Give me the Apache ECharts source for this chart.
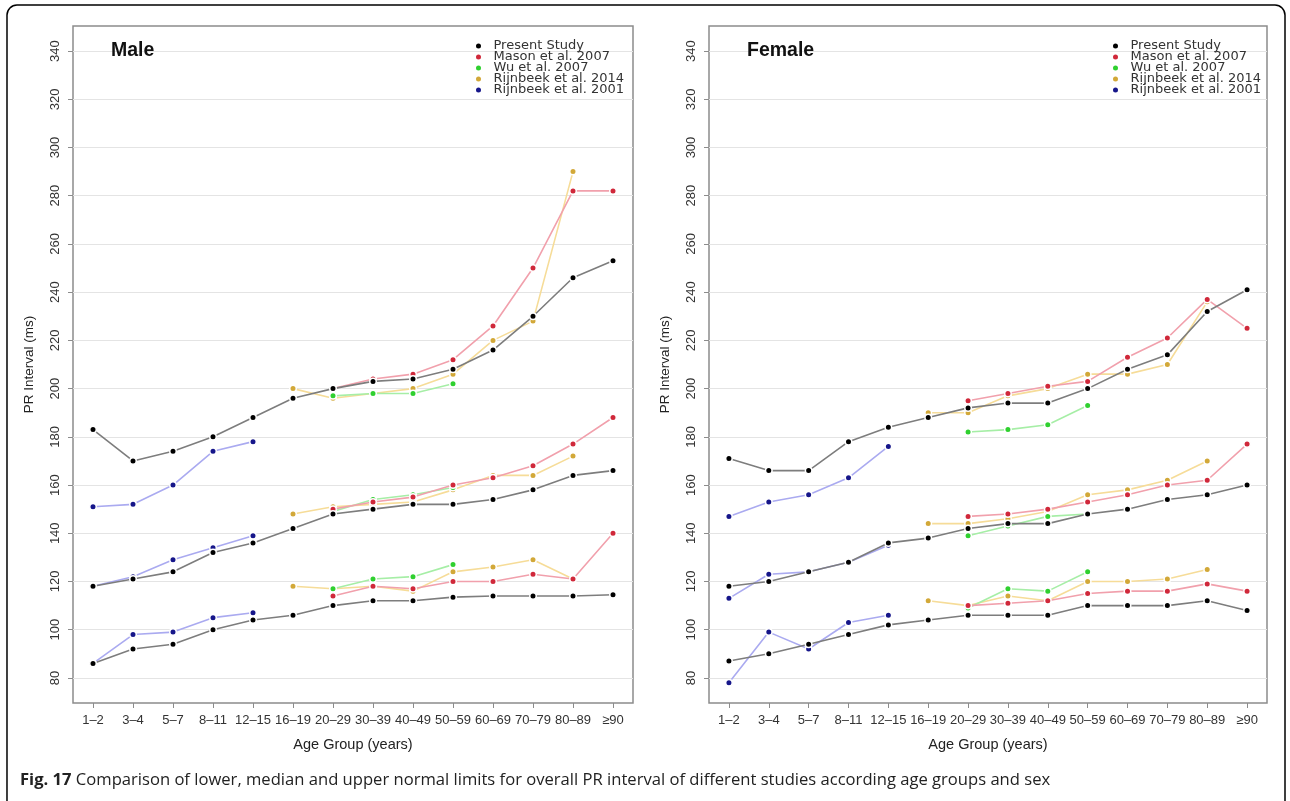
<!DOCTYPE html>
<html><head><meta charset="utf-8">
<script src="https://cdn.jsdelivr.net/npm/echarts@6/dist/echarts.min.js"></script>
<style>html,body{margin:0;padding:0;background:#fff}#c{width:1290px;height:801px}</style>
</head><body><div id="c"></div>
<script>
const N = null;
const categories = ['1–2','3–4','5–7','8–11','12–15','16–19','20–29','30–39','40–49','50–59','60–69','70–79','80–89','≥90'];
const yTicks = [80,100,120,140,160,180,200,220,240,260,280,300,320,340];
const studies = ['Present Study','Mason et al. 2007','Wu et al. 2007','Rijnbeek et al. 2014','Rijnbeek et al. 2001'];

// Male
const malePresentUpper  = [183,170,174,180,188,196,200,203,204,208,216,230,246,253];
const malePresentMedian = [118,121,124,132,136,142,148,150,152,152,154,158,164,166];
const malePresentLower  = [86,92,94,100,104,106,110,112,112,113.5,114,114,114,114.5];
const maleMasonUpper  = [N,N,N,N,N,N,200,204,206,212,226,250,282,282];
const maleMasonMedian = [N,N,N,N,N,N,150,153,155,160,163,168,177,188];
const maleMasonLower  = [N,N,N,N,N,N,114,118,117,120,120,123,121,140];
const maleWuUpper  = [N,N,N,N,N,N,197,198,198,202];
const maleWuMedian = [N,N,N,N,N,N,149,154,156,159];
const maleWuLower  = [N,N,N,N,N,N,117,121,122,127];
const maleRijn14Upper  = [N,N,N,N,N,200,196,198,200,206,220,228,290];
const maleRijn14Median = [N,N,N,N,N,148,151,152,153,158,164,164,172];
const maleRijn14Lower  = [N,N,N,N,N,118,117,118,116,124,126,129,121];
const maleRijn01Upper  = [151,152,160,174,178];
const maleRijn01Median = [118,122,129,134,139];
const maleRijn01Lower  = [86,98,99,105,107];

// Female
const femalePresentUpper  = [171,166,166,178,184,188,192,194,194,200,208,214,232,241];
const femalePresentMedian = [118,120,124,128,136,138,142,144,144,148,150,154,156,160];
const femalePresentLower  = [87,90,94,98,102,104,106,106,106,110,110,110,112,108];
const femaleMasonUpper  = [N,N,N,N,N,N,195,198,201,203,213,221,237,225];
const femaleMasonMedian = [N,N,N,N,N,N,147,148,150,153,156,160,162,177];
const femaleMasonLower  = [N,N,N,N,N,N,110,111,112,115,116,116,119,116];
const femaleWuUpper  = [N,N,N,N,N,N,182,183,185,193];
const femaleWuMedian = [N,N,N,N,N,N,139,143,147,148];
const femaleWuLower  = [N,N,N,N,N,N,109,117,116,124];
const femaleRijn14Upper  = [N,N,N,N,N,190,190,197,200,206,206,210,236];
const femaleRijn14Median = [N,N,N,N,N,144,144,146,149,156,158,162,170];
const femaleRijn14Lower  = [N,N,N,N,N,112,110,114,112,120,120,121,125];
const femaleRijn01Upper  = [147,153,156,163,176];
const femaleRijn01Median = [113,123,124,128,135];
const femaleRijn01Lower  = [78,99,92,103,106];

const pointColors = ['#000000','#d0283a','#2fd02f','#d2a838','#16168a'];
const lineColors  = ['#7d7d7d','#f1a0ac','#a6eea6','#f6dc98','#aaaaf0'];

const panels = [
  [[malePresentLower,malePresentMedian,malePresentUpper],[maleMasonLower,maleMasonMedian,maleMasonUpper],[maleWuLower,maleWuMedian,maleWuUpper],[maleRijn14Lower,maleRijn14Median,maleRijn14Upper],[maleRijn01Lower,maleRijn01Median,maleRijn01Upper]],
  [[femalePresentLower,femalePresentMedian,femalePresentUpper],[femaleMasonLower,femaleMasonMedian,femaleMasonUpper],[femaleWuLower,femaleWuMedian,femaleWuUpper],[femaleRijn14Lower,femaleRijn14Median,femaleRijn14Upper],[femaleRijn01Lower,femaleRijn01Median,femaleRijn01Upper]]
];

const FONT = 'Liberation Sans, Arial, sans-serif';
const series = [];
panels.forEach((panel, g) => {
  series.push({
    type:'line', name:'_grid'+g, xAxisIndex:g, yAxisIndex:g, data:[], silent:true,
    markLine:{silent:true, symbol:['none','none'], z:1, label:{show:false},
      lineStyle:{color:'#e4e4e4', width:1, type:'solid'},
      emphasis:{disabled:true},
      data: yTicks.map(v => ({yAxis:v}))}
  });
  for (let s = panel.length - 1; s >= 0; s--) {
    panel[s].forEach(arr => {
      series.push({
        type:'line', name:studies[s], xAxisIndex:g, yAxisIndex:g, data:arr,
        symbol:'circle', symbolSize:6.5, showSymbol:true, connectNulls:false,
        itemStyle:{color:pointColors[s], borderColor:'#ffffff', borderWidth:1.5},
        lineStyle:{color:lineColors[s], width:1.6},
        emphasis:{disabled:true}, z: 2 + (panel.length - s)
      });
    });
  }
});

function xAxisFor(g){
  return {type:'category', gridIndex:g, data:categories, boundaryGap:true,
    axisLine:{show:false}, axisTick:{show:true, alignWithLabel:true, length:5, lineStyle:{color:'#8c8c8c'}},
    axisLabel:{interval:0, margin:11, fontSize:13, color:'#333', fontFamily:FONT},
    splitLine:{show:false},
    name:'Age Group (years)', nameLocation:'middle', nameGap:34,
    nameTextStyle:{fontSize:14.5, color:'#222', fontFamily:FONT}};
}
function yAxisFor(g){
  return {type:'value', gridIndex:g, min:69.6, max:350.4,
    axisLine:{show:false},
    axisTick:{show:true, length:5, customValues:yTicks, lineStyle:{color:'#8c8c8c'}},
    axisLabel:{customValues:yTicks, rotate:90, margin:11, fontSize:13, color:'#333', fontFamily:FONT},
    splitLine:{show:false},
    name:'PR Interval (ms)', nameLocation:'middle', nameGap:37, nameRotate:90,
    nameTextStyle:{fontSize:13.5, color:'#222', fontFamily:FONT}};
}
function legendFor(left){
  return {left:left, top:39.5, orient:'vertical', padding:0, itemGap:-2, itemWidth:20, itemHeight:7,
    icon:'circle', data:studies, selectedMode:false,
    textStyle:{fontSize:13, lineHeight:11, color:'#333', fontFamily:'DejaVu Sans, sans-serif'}};
}

const option = {
  animation:false,
  backgroundColor:'#ffffff',
  title:[
    {text:'Male', left:111, top:41, padding:0, textStyle:{fontSize:19.5, fontWeight:'bold', color:'#111', fontFamily:FONT}},
    {text:'Female', left:747, top:41, padding:0, textStyle:{fontSize:19.5, fontWeight:'bold', color:'#111', fontFamily:FONT}},
    {text:'{b|Fig. 17} Comparison of lower, median and upper normal limits for overall PR interval of different studies according age groups and sex',
     left:20, top:772, padding:0,
     textStyle:{fontSize:16.6, fontWeight:'normal', color:'#222', fontFamily:'Open Sans',
       rich:{b:{fontSize:16.6, fontWeight:'bold', color:'#222', fontFamily:'Open Sans'}}}}
  ],
  grid:[
    {left:73, top:26, width:560, height:677, show:true, borderColor:'#8c8c8c', borderWidth:1.5, backgroundColor:'transparent'},
    {left:709, top:26, width:558, height:677, show:true, borderColor:'#8c8c8c', borderWidth:1.5, backgroundColor:'transparent'}
  ],
  xAxis:[xAxisFor(0), xAxisFor(1)],
  yAxis:[yAxisFor(0), yAxisFor(1)],
  legend:[legendFor(474), legendFor(1111)],
  graphic:[{type:'rect', silent:true, shape:{x:7, y:5, width:1278, height:812, r:10},
    style:{fill:'none', stroke:'#000', lineWidth:1.5}}],
  series:series
};
const chart = echarts.init(document.getElementById('c'));
chart.setOption(option);
</script></body></html>
